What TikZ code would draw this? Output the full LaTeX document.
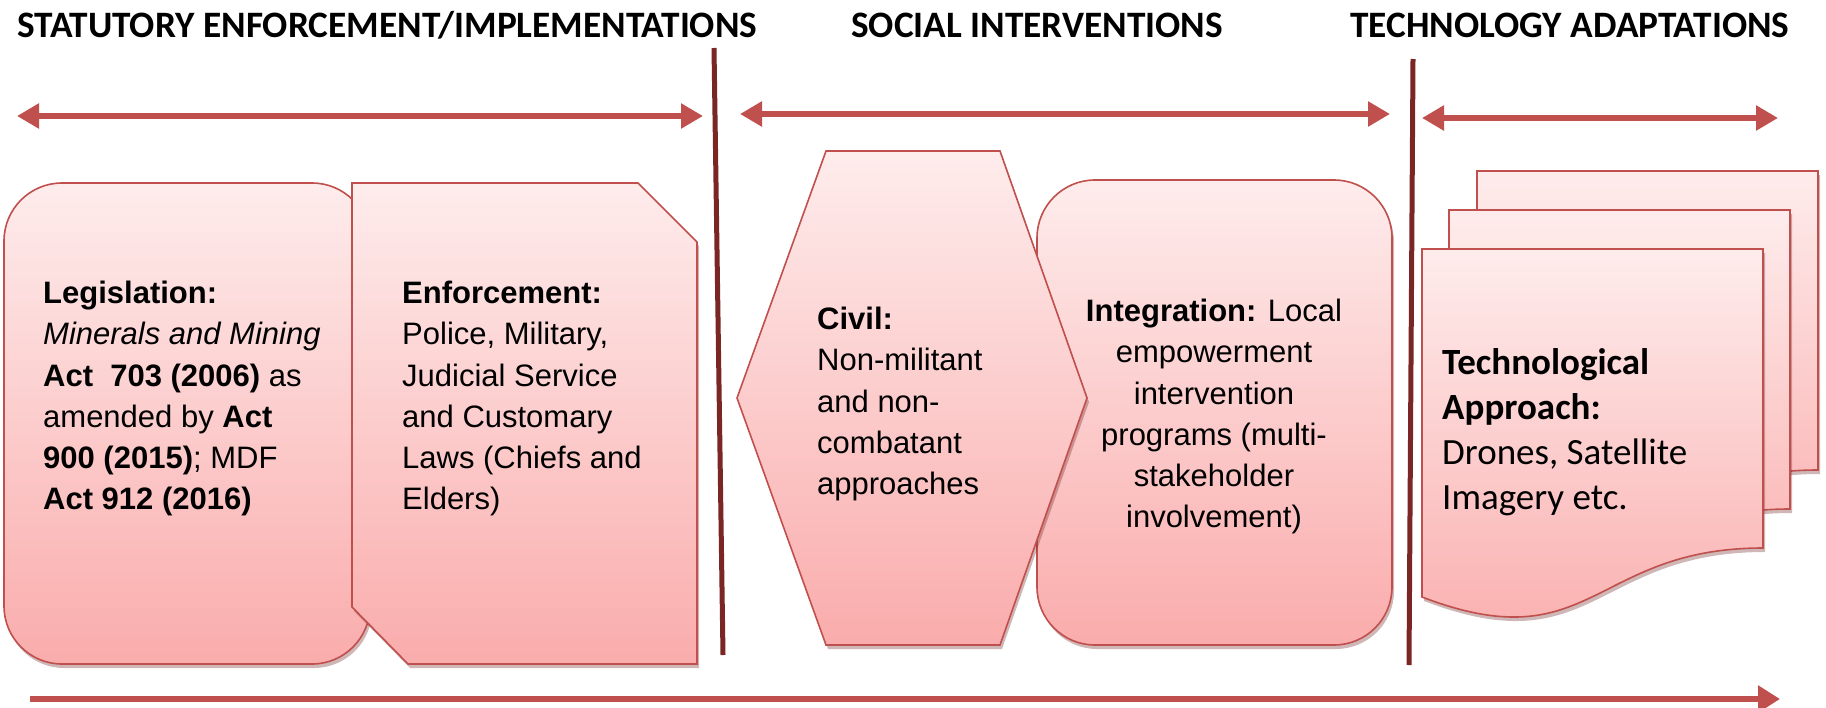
\documentclass[tikz,border=0pt]{standalone}
\usepackage{xcolor}
\usepackage{fontspec}
\setmainfont{Liberation Sans}
\newfontfamily\calfont{Carlito}
\usepackage{tikz}
\usetikzlibrary{arrows.meta,shadows}

\definecolor{boxtop}{RGB}{254,236,236}
\definecolor{boxbot}{RGB}{250,172,172}
\definecolor{boxline}{RGB}{192,80,77}
\definecolor{arrowred}{RGB}{192,80,77}
\definecolor{barline}{RGB}{122,38,36}

\tikzset{
  pinkbox/.style={draw=boxline, line width=1.6pt, top color=boxtop, bottom color=boxbot,
    drop shadow={shadow xshift=2pt, shadow yshift=-4pt, fill=boxline!60!black, opacity=0.35}},
  boxtext/.style={anchor=north west, inner sep=0pt, align=left, font=\fontsize{31}{41.2}\selectfont},
  headtext/.style={anchor=base west, inner sep=0pt, font=\calfont\bfseries\fontsize{37.3}{40}\selectfont},
  spanarrow/.style={draw=arrowred, line width=6pt, arrows={Triangle[length=22pt,width=24pt]-Triangle[length=22pt,width=24pt]}},
  timearrow/.style={draw=arrowred, line width=6pt, arrows={-Triangle[length=22pt,width=26pt]}},
  divider/.style={draw=barline, line width=5pt}
}

\begin{document}
\begin{tikzpicture}[x=1pt,y=1pt,yscale=-1,xscale=1]
\useasboundingbox (0,0) rectangle (1826,707);

% Text Node
\draw (17,37) node (hstat) [headtext] {STATUTORY ENFORCEMENT/IMPLEMENTATIONS};
% Text Node
\draw (851,37) node (hsoc) [headtext] {SOCIAL INTERVENTIONS};
% Text Node
\draw (1350,37) node (htech) [headtext] {TECHNOLOGY ADAPTATIONS};

%Straight Lines
\coordinate (bar1top) at (714,48);
\coordinate (bar1bot) at (723,655);
\coordinate (bar2top) at (1413,59);
\coordinate (bar2bot) at (1409,665);
\draw [divider] (bar1top) -- (bar1bot);
\draw [divider] (bar2top) -- (bar2bot);

%Double Arrows
\coordinate (s1l) at (17,116);
\coordinate (s1r) at (703,116);
\coordinate (s2l) at (740,114);
\coordinate (s2r) at (1390,114);
\coordinate (s3l) at (1422,118);
\coordinate (s3r) at (1778,118);
\draw [spanarrow] (s1l) -- (s1r);
\draw [spanarrow] (s2l) -- (s2r);
\draw [spanarrow] (s3l) -- (s3r);

%Shape: Rounded Rect
\draw [pinkbox, rounded corners=58pt] (4,183) rectangle (370,664);
%Shape: Snip Diagonal Corner Rect
\draw [pinkbox] (352,183) -- (638,183) -- (697,242) -- (697,664) -- (408,664) -- (352,607) -- cycle;
%Shape: Rounded Rect
\draw [pinkbox, rounded corners=58pt] (1037,180) rectangle (1392,645);
%Shape: Hexagon
\draw [pinkbox] (737,398) -- (826,151) -- (1000,151) -- (1087,398) -- (1000,645) -- (826,645) -- cycle;
%Shape: Multidocument
\foreach \dx/\dy in {55/-78, 27/-39, 0/0}
  \draw [pinkbox, shift={(\dx,\dy)}] (1422,249) -- (1763,249) -- (1763,548) .. controls (1592,548) and (1592,662) .. (1422,597) -- cycle;

% Text Node
\draw (43,281) node (legis) [boxtext] {\textbf{Legislation:}\\
  \textit{Minerals and Mining}\\
  \textbf{Act\ \ 703 (2006)} as\\
  amended by \textbf{Act}\\
  \textbf{900 (2015)}; MDF\\
  \textbf{Act 912 (2016)}};
% Text Node
\draw (402,281) node (enforce) [boxtext] {\textbf{Enforcement:}\\ Police, Military,\\ Judicial Service\\ and Customary\\ Laws (Chiefs and\\ Elders)};
% Text Node
\draw (817,307) node (civil) [boxtext] {\textbf{Civil:}\\ Non-militant\\ and non-\\ combatant\\ approaches};
% Text Node
\draw (1214,299) node (integ) [boxtext, anchor=north, align=center] {\textbf{Integration:} Local\\ empowerment\\ intervention\\ programs (multi-\\ stakeholder\\ involvement)};
% Text Node
\draw (1442,348) node (techno) [boxtext, font=\calfont\fontsize{37}{45}\selectfont] {\textbf{Technological}\\ \textbf{Approach:}\\ Drones, Satellite\\ Imagery etc.};

%Time Arrow
\coordinate (tstart) at (30,699);
\coordinate (tend) at (1780,699);
\draw [timearrow] (tstart) -- (tend);

\end{tikzpicture}
\end{document}
